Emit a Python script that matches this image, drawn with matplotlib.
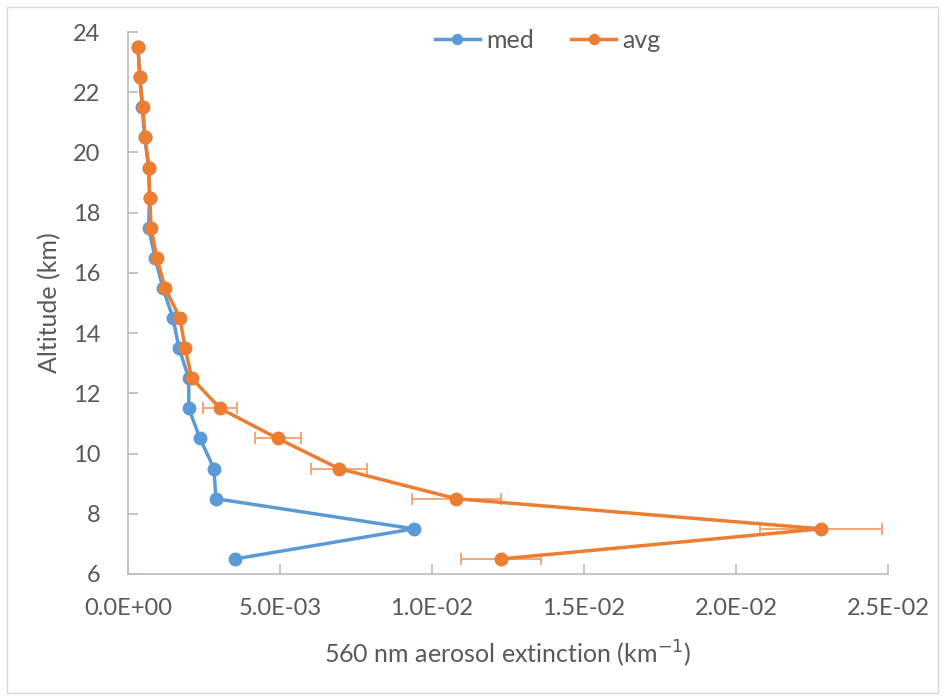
import numpy as np
import matplotlib.pyplot as plt
from matplotlib.patches import Rectangle

# Altitude levels (km) and extinction profiles (km^-1)
altitude = [23.5, 22.5, 21.5, 20.5, 19.5, 18.5, 17.5, 16.5, 15.5,
            14.5, 13.5, 12.5, 11.5, 10.5, 9.5, 8.5, 7.5, 6.5]
med = [0.33e-3, 0.39e-3, 0.47e-3, 0.55e-3, 0.68e-3, 0.71e-3, 0.68e-3, 0.89e-3, 1.15e-3,
       1.48e-3, 1.68e-3, 2.0e-3, 2.0e-3, 2.37e-3, 2.83e-3, 2.89e-3, 9.4e-3, 3.52e-3]
avg = [0.33e-3, 0.39e-3, 0.49e-3, 0.56e-3, 0.69e-3, 0.72e-3, 0.76e-3, 0.95e-3, 1.22e-3,
       1.71e-3, 1.88e-3, 2.1e-3, 3.03e-3, 4.93e-3, 6.94e-3, 10.8e-3, 22.8e-3, 12.27e-3]
avg_err = [0, 0, 0, 0, 0, 0, 0, 0, 0,
           0.1e-3, 0, 0, 0.55e-3, 0.76e-3, 0.92e-3, 1.46e-3, 2.0e-3, 1.33e-3]

BLUE = '#5B9BD5'
ORANGE = '#ED7D31'
GRAY = '#595959'

plt.rcParams['font.family'] = ['Lato', 'DejaVu Sans']

fig = plt.figure(figsize=(9.45, 6.96), dpi=100)
ax = fig.add_axes([0.1354, 0.1753, 0.8043, 0.7787])

ax.plot(med, altitude, color=BLUE, lw=2.5, marker='o', ms=9, label='med', zorder=3)
ax.errorbar(avg, altitude, xerr=avg_err, fmt='none', ecolor='#F4A06A', elinewidth=1.3,
            capsize=4, capthick=1.3, zorder=2)
ax.plot(avg, altitude, color=ORANGE, lw=2.5, marker='o', ms=9, label='avg', zorder=4)

ax.set_xlim(0, 0.025)
ax.set_ylim(6, 24)
ax.set_xticks(np.arange(0, 0.0251, 0.005))
ax.set_xticklabels(['0.0E+00', '5.0E-03', '1.0E-02', '1.5E-02', '2.0E-02', '2.5E-02'])
ax.set_yticks(range(6, 25, 2))

for side in ['top', 'right']:
    ax.spines[side].set_visible(False)
for side in ['left', 'bottom']:
    ax.spines[side].set_color('#BFBFBF')
    ax.spines[side].set_linewidth(1.3)
ax.tick_params(direction='in', length=7, width=1.3, color='#BFBFBF',
               labelsize=17, labelcolor=GRAY)
ax.tick_params(axis='y', pad=20)
ax.tick_params(axis='x', pad=17)

ax.set_xlabel('560 nm aerosol extinction (km$^{-1}$)', fontsize=18, color=GRAY, labelpad=14)
ax.set_ylabel('Altitude (km)', fontsize=18, color=GRAY, labelpad=8)

ax.legend(loc='center', bbox_to_anchor=(0.552, 0.985), ncol=2, frameon=False,
          fontsize=18, labelcolor=GRAY, handlelength=1.8, handletextpad=0.25,
          columnspacing=1.5, markerscale=0.8)

fig.patches.append(Rectangle((0.007, 0.005), 0.986, 0.985, transform=fig.transFigure,
                             fill=False, edgecolor='#D9D9D9', lw=1))

fig.savefig('out.png', dpi=100)
